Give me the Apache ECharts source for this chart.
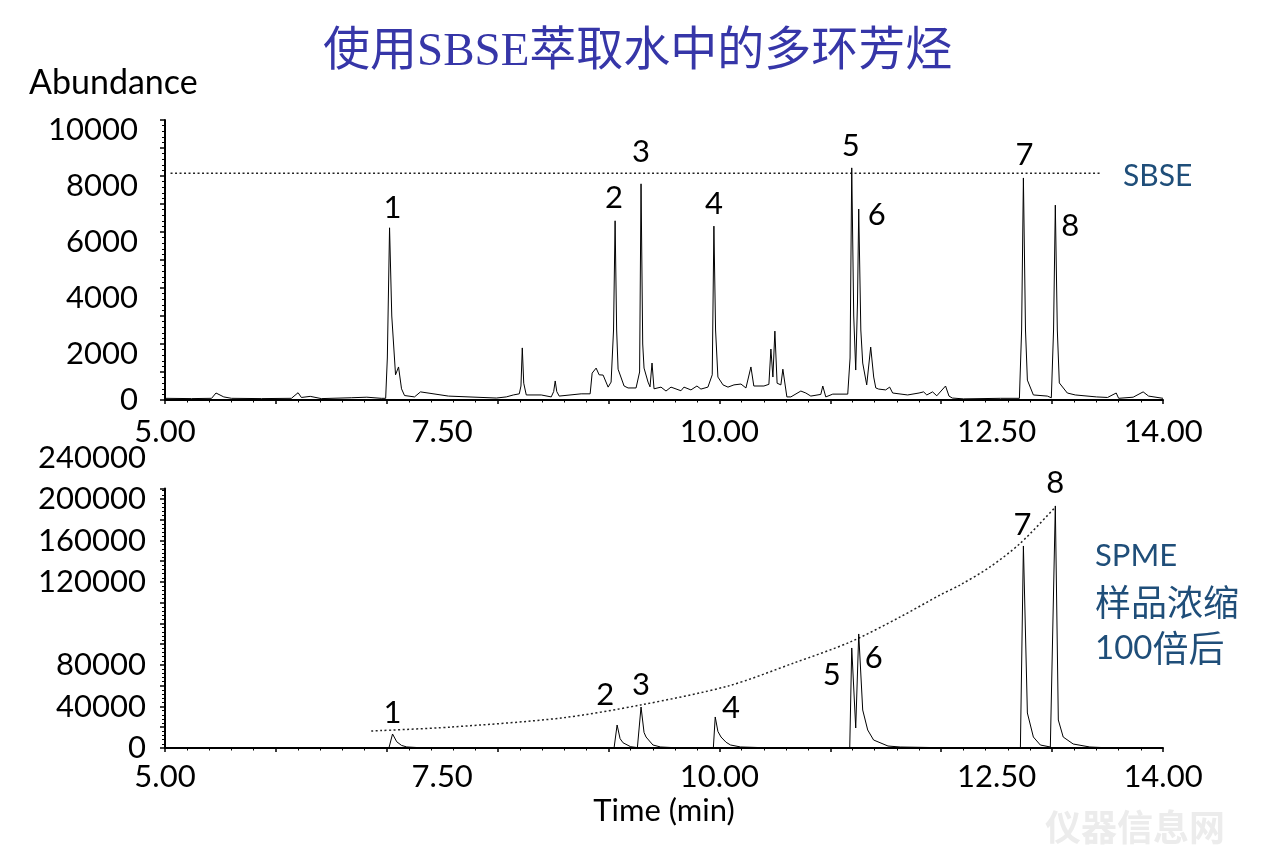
<!DOCTYPE html>
<html><head><meta charset="utf-8">
<script src="https://cdn.jsdelivr.net/npm/echarts@6/dist/echarts.min.js"></script>
<style>html,body{margin:0;padding:0;background:#fff}#c{width:1264px;height:855px}</style>
</head><body><div id="c"></div>
<script>
// ---- tick labels ----
const xTickLabelValues = [5, 7.5, 10, 12.5, 14];
const xTickLabels = ['5.00', '7.50', '10.00', '12.50', '14.00'];
const topYTickValues = [0, 2000, 4000, 6000, 8000, 10000];
const topYTickLabels = ['0', '2000', '4000', '6000', '8000', '10000'];
const bottomYTickValues = [0, 40000, 80000, 160000, 200000, 240000, 280000];
const bottomYTickLabels = ['0', '40000', '80000', '120000', '160000', '200000', '240000'];

// ---- SBSE chromatogram (time min, abundance) ----
const sbseTrace = [
  [5.00,60],[5.24,50],[5.42,60],[5.46,250],[5.53,110],[5.60,60],[5.87,50],[6.14,60],[6.20,260],[6.23,90],
  [6.31,130],[6.41,50],[6.68,80],[6.82,100],[6.95,60],[6.99,60],
  [7.005,1500],[7.025,6150],[7.045,3000],[7.079,900],[7.106,1180],[7.133,400],[7.16,160],[7.25,110],
  [7.304,290],[7.556,140],[7.988,70],[8.078,110],[8.141,180],[8.195,220],
  [8.210,500],[8.222,1860],[8.235,600],[8.258,180],[8.393,180],[8.483,110],[8.505,300],[8.519,680],
  [8.533,300],[8.555,140],[8.753,220],[8.834,220],[8.852,960],[8.888,1140],[8.915,900],[8.951,890],
  [8.996,460],[9.023,640],
  [9.045,2500],[9.059,6400],[9.073,2500],[9.086,1100],[9.104,1110],[9.140,500],[9.176,430],[9.248,430],
  [9.280,1000],[9.293,7720],[9.308,2000],[9.320,1140],[9.356,640],[9.374,470],[9.392,1320],[9.410,400],
  [9.473,460],[9.518,320],[9.563,460],[9.653,330],[9.680,460],[9.743,360],[9.797,500],[9.833,390],
  [9.896,460],[9.935,900],
  [9.950,6210],[9.965,2500],[9.986,820],[10.032,540],[10.077,460],[10.131,540],[10.194,570],[10.239,430],
  [10.284,1180],[10.310,500],[10.401,500],[10.446,560],[10.464,1820],[10.482,820],[10.500,2460],[10.520,600],
  [10.554,540],[10.572,1100],[10.608,110],[10.644,110],[10.734,320],[10.779,250],[10.824,140],[10.914,200],
  [10.932,500],[10.959,110],[11.022,210],[11.157,210],[11.178,1500],
  [11.193,8290],[11.211,3000],[11.229,1070],[11.245,3500],[11.256,6820],[11.275,2500],[11.292,1320],
  [11.310,1250],[11.328,540],[11.364,1890],[11.391,820],[11.410,430],[11.436,390],[11.499,360],[11.535,460],
  [11.562,250],[11.697,180],[11.800,250],[11.841,290],[11.870,180],[11.922,290],[11.960,150],[12.039,500],
  [12.070,140],[12.100,70],[12.201,40],[12.534,60],[12.705,60],
  [12.725,2500],[12.741,7930],[12.760,2500],[12.777,710],[12.831,180],[12.957,140],[12.993,80],
  [13.013,2500],[13.029,6960],[13.047,2500],[13.065,610],[13.137,250],[13.209,180],[13.40,110],[13.50,90],
  [13.578,250],[13.60,60],[13.731,100],[13.821,290],[13.87,140],[14.00,60]
];
const sbseRefLine = [[5.05, 8100], [13.43, 8100]];
const sbseLabelTime = [7.052, 9.050, 9.293, 9.950, 11.184, 11.418, 12.750, 13.164];
const sbseLabelValue = [6857, 7214, 8857, 7000, 9071, 6607, 8750, 6214];

// ---- SPME chromatogram (time min, abundance) ----
const spmeTrace = [
  [5.00,200],[7.02,300],[7.052,13500],[7.09,6000],[7.133,2500],[7.18,1000],[7.30,300],
  [9.05,300],[9.077,22170],[9.104,9000],[9.131,5000],[9.20,1200],[9.26,400],
  [9.275,400],[9.293,39500],[9.32,15000],[9.338,10600],[9.40,2900],[9.47,960],[9.60,300],
  [9.945,300],[9.962,29900],[9.986,16000],[10.014,10600],[10.06,5500],[10.10,2900],[10.19,1000],[10.40,300],
  [11.175,300],[11.193,96400],[11.229,19300],[11.256,109900],[11.292,36600],[11.337,17350],[11.39,7700],
  [11.52,1900],[11.63,960],[12.00,300],
  [12.714,300],[12.741,194700],[12.777,33740],[12.831,10600],[12.894,2890],[12.984,960],
  [13.002,700],[13.029,233300],[13.056,27000],[13.10,10600],[13.19,3860],[13.34,960],[13.48,300]
];
const spmeTrendCurve = [
  [6.86,16400],[7.58,20200],[8.57,28900],[9.29,41500],[10.08,59800],[10.67,81900],[11.18,102200],
  [11.63,126300],[11.99,147500],[12.17,157100],[12.44,174500],[12.71,197000],[13.03,232300]
];
const spmeLabelTime = [7.052, 8.970, 9.293, 10.104, 11.013, 11.391, 12.732, 13.029];
const spmeLabelValue = [33740, 50600, 60720, 38560, 70360, 86750, 214940, 255150];
const peakNames = ['1', '2', '3', '4', '5', '6', '7', '8'];

// ---- build ----
const FONT = "Lato, 'Noto Sans CJK SC', sans-serif";
function lookup(vals, labels, v) {
  for (let i = 0; i < vals.length; i++) if (Math.abs(vals[i] - v) < 1e-6 * Math.max(1, Math.abs(v))) return labels[i];
  return '';
}
const labelPts = (ts, vs) => ts.map((t, i) => ({ name: peakNames[i], value: [t, vs[i]] }));
const axisLineStyle = { color: '#000', width: 2 };
const txt = { color: '#000', fontSize: 31, fontFamily: FONT };

function mainX(grid, margin, extra) {
  return Object.assign({
    type: 'value', gridIndex: grid, min: 5, max: 14, interval: 1,
    axisLine: { show: true, onZero: false, lineStyle: axisLineStyle },
    axisTick: { show: true, length: 4, lineStyle: { color: '#000', width: 1.5 } },
    minorTick: { show: true, splitNumber: 5, length: 2.5, lineStyle: { color: '#000', width: 1 } },
    splitLine: { show: false }, minorSplitLine: { show: false },
    axisLabel: Object.assign({ customValues: xTickLabelValues, margin: margin,
      formatter: v => lookup(xTickLabelValues, xTickLabels, v) }, txt)
  }, extra || {});
}
const hiddenX = g => ({ type: 'value', gridIndex: g, min: 5, max: 14, show: false });
const peakLabelSeries = (xi, yi, pts) => ({
  type: 'scatter', xAxisIndex: xi, yAxisIndex: yi, data: pts,
  symbolSize: 1, itemStyle: { color: 'rgba(255,255,255,0)' }, clip: false, z: 5,
  label: { show: true, position: 'inside', formatter: p => p.name, color: '#000', opacity: 1,
    textBorderWidth: 0, fontSize: 31, fontFamily: FONT }
});

const option = {
  animation: false,
  backgroundColor: '#fff',
  title: [
    { text: '使用SBSE萃取水中的多环芳烃', left: 318, top: 24,
      textStyle: { fontSize: 47, fontWeight: 'normal', color: '#3636a8', fontFamily: "'Liberation Serif', 'Noto Sans CJK SC', serif" } },
    { text: 'Abundance', left: 24, top: 61, textStyle: { fontSize: 34, fontWeight: 'normal', color: '#000', fontFamily: FONT } },
    { text: 'SBSE', left: 1118, top: 156, textStyle: { fontSize: 30, fontWeight: 'normal', color: '#1f4e79', fontFamily: FONT } },
    { text: '{a|SPME}\n{b|样品浓缩}\n{c|100}{b|倍后}', left: 1090, top: 528,
      textStyle: { fontSize: 31, fontWeight: 'normal', color: '#1f4e79', lineHeight: 46, fontFamily: FONT,
        rich: {
          a: { fontSize: 31, color: '#1f4e79', lineHeight: 46, fontFamily: FONT },
          b: { fontSize: 36, color: '#1f4e79', lineHeight: 46, fontFamily: "'Noto Sans CJK SC', sans-serif" },
          c: { fontSize: 33, color: '#1f4e79', lineHeight: 46, fontFamily: FONT }
        } } },
    { text: '仪器信息网', left: 1040, top: 806, textStyle: { fontSize: 36, fontWeight: 'bold', color: '#ececec', fontFamily: FONT } }
  ],
  grid: [
    { left: 165, top: 120, width: 998, height: 280 },
    { left: 165, top: 130, width: 998, height: 280 },
    { left: 165, top: 488.6, width: 998, height: 259.4 },
    { left: 165, top: 457.5, width: 998, height: 290.5 }
  ],
  xAxis: [
    mainX(0, 17),
    hiddenX(1),
    mainX(2, 14, { name: 'Time (min)', nameLocation: 'middle', nameGap: 48, nameTextStyle: txt }),
    hiddenX(3)
  ],
  yAxis: [
    { type: 'value', gridIndex: 0, min: 0, max: 10000, interval: 1000,
      axisLine: { show: true, lineStyle: axisLineStyle },
      axisTick: { show: true, length: 5, lineStyle: { color: '#000', width: 1.5 } },
      minorTick: { show: true, splitNumber: 5, length: 3, lineStyle: { color: '#000', width: 1 } },
      splitLine: { show: false },
      axisLabel: Object.assign({ customValues: [0], margin: 27, formatter: v => (v === 0 ? '0' : '') }, txt) },
    { type: 'value', gridIndex: 1, min: 0, max: 10000, interval: 2000,
      axisLine: { show: false }, axisTick: { show: false }, splitLine: { show: false },
      axisLabel: Object.assign({ customValues: topYTickValues.slice(1), margin: 27,
        formatter: v => lookup(topYTickValues, topYTickLabels, v) }, txt) },
    { type: 'value', gridIndex: 2, min: 0, max: 250000, interval: 20000,
      axisLine: { show: true, lineStyle: axisLineStyle },
      axisTick: { show: true, length: 5, lineStyle: { color: '#000', width: 1.5 } },
      minorTick: { show: true, splitNumber: 5, length: 3, lineStyle: { color: '#000', width: 1 } },
      splitLine: { show: false }, axisLabel: { show: false } },
    { type: 'value', gridIndex: 3, min: 0, max: 280000, interval: 40000,
      axisLine: { show: false }, axisTick: { show: false }, splitLine: { show: false },
      axisLabel: Object.assign({ customValues: bottomYTickValues, margin: 19,
        formatter: v => lookup(bottomYTickValues, bottomYTickLabels, v) }, txt) }
  ],
  series: [
    { type: 'line', xAxisIndex: 0, yAxisIndex: 0, data: sbseTrace, showSymbol: false, symbol: 'none',
      lineStyle: { color: '#000', width: 1 }, z: 3 },
    { type: 'line', xAxisIndex: 0, yAxisIndex: 0, data: sbseRefLine, showSymbol: false, symbol: 'none',
      lineStyle: { color: '#222', width: 1.5, type: [2, 2.5] }, z: 2 },
    peakLabelSeries(0, 0, labelPts(sbseLabelTime, sbseLabelValue)),
    { type: 'line', xAxisIndex: 2, yAxisIndex: 2, data: spmeTrace, showSymbol: false, symbol: 'none',
      lineStyle: { color: '#000', width: 1 }, z: 3 },
    { type: 'line', xAxisIndex: 2, yAxisIndex: 2, data: spmeTrendCurve, showSymbol: false, symbol: 'none',
      smooth: 0.3, lineStyle: { color: '#222', width: 1.5, type: [2, 2.5] }, z: 2, clip: false },
    peakLabelSeries(2, 2, labelPts(spmeLabelTime, spmeLabelValue))
  ]
};
echarts.init(document.getElementById('c'), null, { renderer: 'canvas' }).setOption(option);
</script>
</body></html>
